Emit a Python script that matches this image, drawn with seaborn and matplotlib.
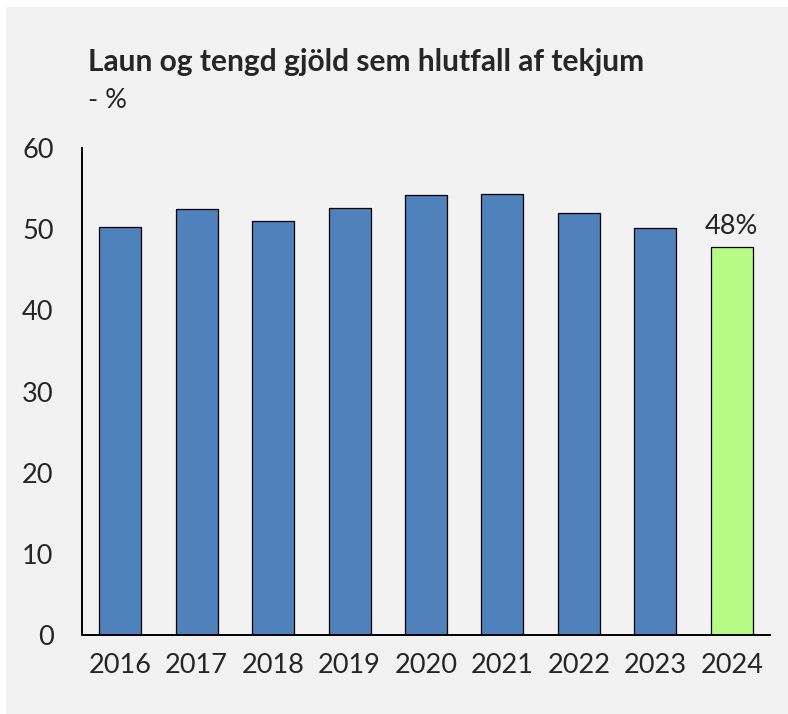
import numpy as np
import pandas as pd
import matplotlib
matplotlib.use('Agg')
import matplotlib.pyplot as plt
import seaborn as sns
from matplotlib.patches import Rectangle

# Dados do gráfico
anos = ['2016', '2017', '2018', '2019', '2020', '2021', '2022', '2023', '2024']
valores = [50.3, 52.5, 51.0, 52.6, 54.2, 54.3, 52.0, 50.2, 47.8]
cores = ['#4f81bd'] * 8 + ['#b5fb84']
titulo = 'Laun og tengd gjöld sem hlutfall af tekjum'
subtitulo = '- %'
rotulo_ultimo = '48%'

sns.set_style('white')
plt.rcParams['font.family'] = ['Lato', 'DejaVu Sans']

fig = plt.figure(figsize=(7.88, 7.14), dpi=100, facecolor='white')
# painel cinza por trás do gráfico
fig.patches.append(Rectangle((6 / 788, 0), 1, 1 - 7 / 714, transform=fig.transFigure,
                             facecolor='#f2f2f2', edgecolor='none', zorder=-10))

ax = fig.add_axes([82 / 788, 1 - 635 / 714, (770 - 82) / 788, (635 - 148) / 714])
ax.set_facecolor('none')

df = pd.DataFrame({'Ano': anos, 'Valor': valores})
sns.barplot(data=df, x='Ano', y='Valor', hue='Ano', palette=cores, legend=False,
            width=0.55, edgecolor='black', linewidth=0.9, saturation=1, ax=ax)

ax.set_ylim(0, 60)
ax.set_xlim(-0.5, len(anos) - 0.5)
ax.set_yticks(range(0, 61, 10))
ax.set_xlabel('')
ax.set_ylabel('')

for lado in ['top', 'right']:
    ax.spines[lado].set_visible(False)
for lado in ['left', 'bottom']:
    ax.spines[lado].set_color('black')
    ax.spines[lado].set_linewidth(1.4)

ax.tick_params(axis='y', length=6.5, width=1.4, color='black', pad=14, labelsize=19.5)
ax.tick_params(axis='x', length=0, pad=13, labelsize=19.5)

# rótulo do último ano
ax.text(len(anos) - 1, valores[-1] + 1.0, rotulo_ultimo, ha='center', va='bottom', fontsize=19.5)

fig.text(88 / 788, 1 - 62 / 714, titulo, fontsize=21.5, fontweight='bold', va='center', ha='left')
fig.text(88 / 788, 1 - 100 / 714, subtitulo, fontsize=19.5, va='center', ha='left')

plt.savefig('out.png', dpi=100, facecolor=fig.get_facecolor())
